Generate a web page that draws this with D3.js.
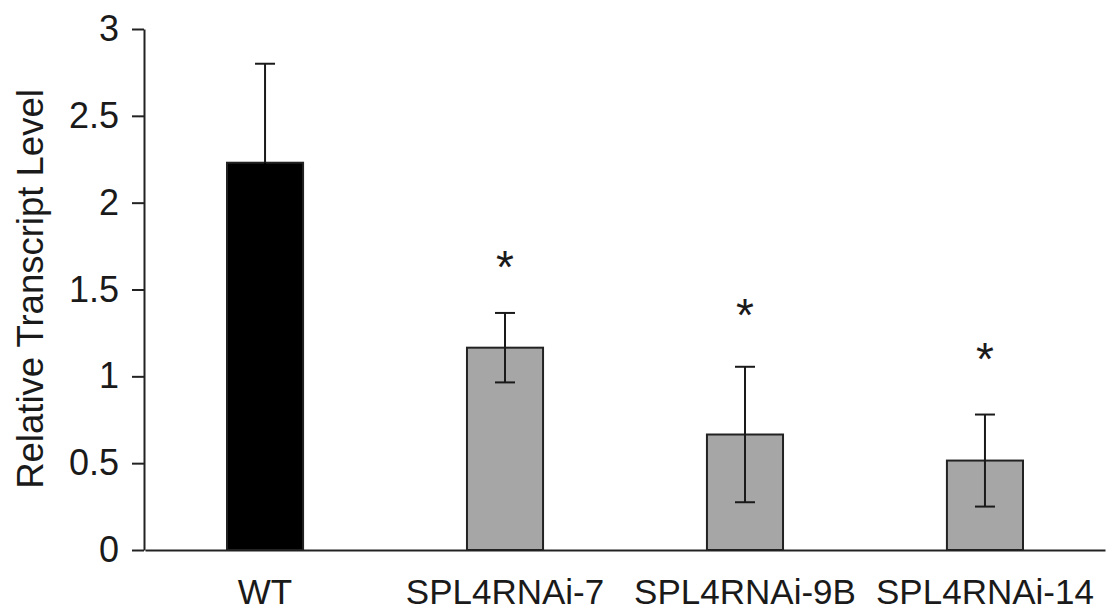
<!DOCTYPE html>
<html>
<head>
<meta charset="utf-8">
<script src="https://cdn.jsdelivr.net/npm/d3@7"></script>
<style>
  body { margin: 0; background: #fff; }
  svg { display: block; font-family: Arial, "Liberation Sans", sans-serif; }
</style>
</head>
<body>
<svg id="chart" width="1110" height="616"></svg>
<script>
const categories = ['WT', 'SPL4RNAi-7', 'SPL4RNAi-9B', 'SPL4RNAi-14']
const means = [2.23, 1.165, 0.665, 0.515]
const errors = [0.57, 0.2, 0.39, 0.265]
const starLevels = [null, 1.69, 1.41, 1.16]
const fills = ['#000000', '#a6a6a6', '#a6a6a6', '#a6a6a6']
const yTicks = [0, 0.5, 1, 1.5, 2, 2.5, 3]
const yTickLabels = ['0', '0.5', '1', '1.5', '2', '2.5', '3']

const svg = d3.select('#chart')

const x = d3.scaleBand().domain(categories).range([145, 1105])
  .paddingInner(0.683).paddingOuter(0.3417)
const y = d3.scaleLinear().domain([0, 3]).range([550, 29])

const data = categories.map((c, i) => ({
  name: c, mean: means[i], err: errors[i], star: starLevels[i], fill: fills[i]
}))

// bars
svg.selectAll('.bar').data(data).enter().append('rect')
  .attr('class', 'bar')
  .attr('x', d => x(d.name))
  .attr('y', d => y(d.mean))
  .attr('width', x.bandwidth())
  .attr('height', d => y(0) - y(d.mean))
  .attr('fill', d => d.fill)
  .attr('stroke', '#222')
  .attr('stroke-width', 2)

// error bars (the lower half disappears into the black WT bar)
const capHalf = 10
const err = svg.selectAll('.err').data(data).enter().append('g')
  .attr('class', 'err')
  .attr('stroke-width', 2)
  .attr('transform', d => `translate(${x(d.name) + x.bandwidth() / 2},0)`)
err.append('line')
  .attr('stroke', '#1a1a1a')
  .attr('y1', d => y(d.mean)).attr('y2', d => y(d.mean + d.err))
err.append('line')
  .attr('stroke', '#1a1a1a')
  .attr('x1', -capHalf).attr('x2', capHalf)
  .attr('y1', d => y(d.mean + d.err)).attr('y2', d => y(d.mean + d.err))
err.append('line')
  .attr('stroke', d => d.fill === '#000000' ? '#000' : '#1a1a1a')
  .attr('y1', d => y(d.mean)).attr('y2', d => y(d.mean - d.err))
err.append('line')
  .attr('stroke', d => d.fill === '#000000' ? '#000' : '#1a1a1a')
  .attr('x1', -capHalf).attr('x2', capHalf)
  .attr('y1', d => y(d.mean - d.err)).attr('y2', d => y(d.mean - d.err))

// significance stars
svg.selectAll('.star').data(data.filter(d => d.star != null)).enter().append('text')
  .attr('class', 'star')
  .attr('x', d => x(d.name) + x.bandwidth() / 2)
  .attr('y', d => y(d.star) + 26)
  .attr('text-anchor', 'middle')
  .attr('font-size', 46)
  .attr('fill', '#1a1a1a')
  .text('*')

// y axis
const yAxis = svg.append('g')
  .attr('transform', 'translate(144,0)')
  .call(d3.axisLeft(y).tickValues(yTicks).tickSize(12).tickSizeOuter(0).tickPadding(13)
    .tickFormat((d, i) => yTickLabels[i]))
yAxis.select('.domain').attr('stroke', '#222').attr('stroke-width', 2)
yAxis.selectAll('.tick line').attr('stroke', '#222').attr('stroke-width', 2)
yAxis.selectAll('.tick text').attr('font-size', 36).attr('fill', '#1a1a1a')

// x axis
const xAxis = svg.append('g')
  .attr('transform', 'translate(0,550)')
  .call(d3.axisBottom(x).tickSize(0).tickSizeOuter(0).tickPadding(29))
xAxis.select('.domain').attr('stroke', '#222').attr('stroke-width', 2)
xAxis.selectAll('.tick text').attr('font-size', 35).attr('fill', '#1a1a1a')

// y label
svg.append('text')
  .attr('transform', 'translate(43,289) rotate(-90)')
  .attr('text-anchor', 'middle')
  .attr('font-size', 36.5)
  .attr('fill', '#1a1a1a')
  .text('Relative Transcript Level')
</script>
</body>
</html>
